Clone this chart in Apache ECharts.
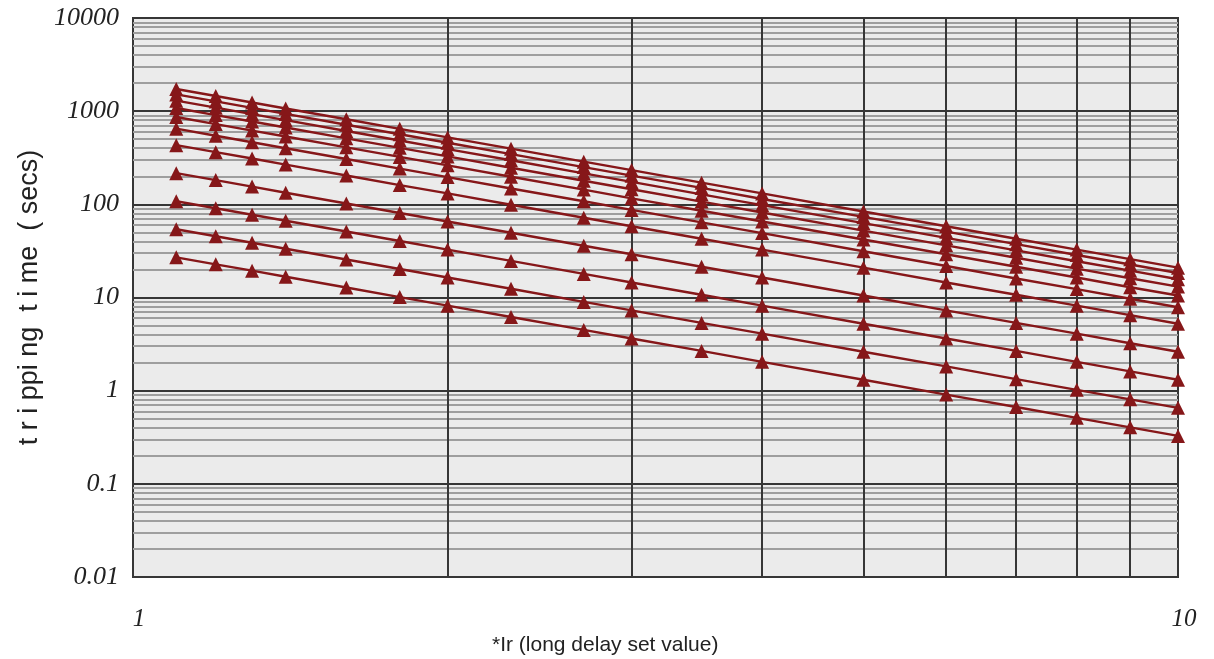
<!DOCTYPE html>
<html>
<head>
<meta charset="utf-8">
<script src="https://cdn.jsdelivr.net/npm/echarts@6/dist/echarts.min.js"></script>
<style>
html,body{margin:0;padding:0;background:#fff;}
#chart{width:1214px;height:659px;}
</style>
</head>
<body>
<div id="chart"></div>
<script>
// multiples of Ir (x values)
const xValues = [1.1, 1.2, 1.3, 1.4, 1.6, 1.8, 2, 2.3, 2.7, 3, 3.5, 4, 5, 6, 7, 8, 9, 10];

// tripping time curves (secs), bottom to top
const curve1  = [27.0, 22.7, 19.4, 16.7, 12.8, 10.1, 8.18, 6.18, 4.49, 3.63, 2.67, 2.04, 1.31, 0.908, 0.667, 0.511, 0.404, 0.327];
const curve2  = [54.0, 45.4, 38.7, 33.4, 25.6, 20.2, 16.4, 12.4, 8.97, 7.27, 5.34, 4.09, 2.62, 1.82, 1.33, 1.02, 0.807, 0.654];
const curve3  = [108, 90.8, 77.4, 66.7, 51.1, 40.4, 32.7, 24.7, 17.9, 14.5, 10.7, 8.18, 5.23, 3.63, 2.67, 2.04, 1.61, 1.31];
const curve4  = [216, 182, 155, 133, 102, 80.7, 65.4, 49.5, 35.9, 29.1, 21.4, 16.4, 10.5, 7.27, 5.34, 4.09, 3.23, 2.62];
const curve5  = [432, 363, 310, 267, 204, 161, 131, 98.9, 71.8, 58.1, 42.7, 32.7, 20.9, 14.5, 10.7, 8.18, 6.46, 5.23];
const curve6  = [649, 545, 464, 400, 307, 242, 196, 148, 108, 87.2, 64.1, 49.1, 31.4, 21.8, 16.0, 12.3, 9.69, 7.85];
const curve7  = [865, 727, 619, 534, 409, 323, 262, 198, 144, 116, 85.4, 65.4, 41.9, 29.1, 21.4, 16.4, 12.9, 10.5];
const curve8  = [1081, 908, 774, 667, 511, 404, 327, 247, 179, 145, 107, 81.8, 52.3, 36.3, 26.7, 20.4, 16.1, 13.1];
const curve9  = [1297, 1090, 929, 801, 613, 484, 392, 297, 215, 174, 128, 98.1, 62.8, 43.6, 32.0, 24.5, 19.4, 15.7];
const curve10 = [1513, 1272, 1084, 934, 715, 565, 458, 346, 251, 203, 150, 114, 73.3, 50.9, 37.4, 28.6, 22.6, 18.3];
const curve11 = [1730, 1453, 1238, 1068, 818, 646, 523, 396, 287, 233, 171, 131, 83.7, 58.1, 42.7, 32.7, 25.8, 20.9];
const curves = [curve1, curve2, curve3, curve4, curve5, curve6, curve7, curve8, curve9, curve10, curve11];

// axis tick labels
const yTickLabels = ['0.01', '0.1', '1', '10', '100', '1000', '10000'];
const xTickLabels = ['1', '10'];
// grid line positions
const xGridValues = [2, 3, 4, 5, 6, 7, 8, 9];
const yMinorValues = [
  0.02, 0.03, 0.04, 0.05, 0.06, 0.07, 0.08, 0.09,
  0.2, 0.3, 0.4, 0.5, 0.6, 0.7, 0.8, 0.9,
  2, 3, 4, 5, 6, 7, 8, 9,
  20, 30, 40, 50, 60, 70, 80, 90,
  200, 300, 400, 500, 600, 700, 800, 900,
  2000, 3000, 4000, 5000, 6000, 7000, 8000, 9000
];

const titleText = '*Ir (long delay set value)';
const yName = 't r i ppi ng  t i me  ( secs)';

const lineColor = '#861719';

const series = [];
series.push({
  type: 'line', data: [], z: 1, silent: true,
  markLine: {
    silent: true, symbol: ['none', 'none'], animation: false,
    label: {show: false},
    lineStyle: {color: '#9e9e9e', width: 2, type: 'solid'},
    data: yMinorValues.map(v => ({yAxis: v}))
  }
});
series.push({
  type: 'line', data: [], z: 2, silent: true,
  markLine: {
    silent: true, symbol: ['none', 'none'], animation: false,
    label: {show: false},
    lineStyle: {color: '#363636', width: 2, type: 'solid'},
    data: xGridValues.map(v => ({xAxis: v}))
  }
});
curves.forEach((c, i) => {
  series.push({
    type: 'line',
    name: 'curve' + (i + 1),
    z: 5,
    data: xValues.map((x, j) => [x, c[j]]),
    symbol: 'triangle',
    symbolSize: 14,
    showSymbol: true,
    lineStyle: {color: lineColor, width: 2.4},
    itemStyle: {color: lineColor},
    emphasis: {disabled: true}
  });
});

const chart = echarts.init(document.getElementById('chart'), null, {renderer: 'canvas'});
chart.setOption({
  animation: false,
  backgroundColor: '#ffffff',
  title: {
    text: titleText,
    left: 487, top: 630,
    textStyle: {fontFamily: 'Liberation Sans', fontSize: 21, fontWeight: 'normal', color: '#222'}
  },
  grid: {
    left: 133, right: 36, top: 18, bottom: 82,
    show: true, backgroundColor: '#ebebeb', borderColor: '#363636', borderWidth: 2
  },
  xAxis: {
    type: 'log', logBase: 10, min: 1, max: 10,
    axisLine: {show: false},
    axisTick: {show: false},
    splitLine: {show: false},
    axisLabel: {
      margin: 30,
      padding: [0, 0, 0, 12],
      fontFamily: 'Liberation Serif', fontStyle: 'italic', fontSize: 25, color: '#222',
      formatter: function (v) {
        const i = Math.round(Math.log10(v));
        return xTickLabels[i] !== undefined ? xTickLabels[i] : '';
      }
    }
  },
  yAxis: {
    type: 'log', logBase: 10, min: 0.01, max: 10000, interval: 1, splitNumber: 6,
    name: yName, nameLocation: 'middle', nameGap: 90,
    nameTextStyle: {fontFamily: 'Liberation Sans', fontSize: 27, color: '#222'},
    axisLine: {show: false},
    axisTick: {show: false},
    splitLine: {show: true, lineStyle: {color: '#363636', width: 2}},
    axisLabel: {
      margin: 14,
      fontFamily: 'Liberation Serif', fontStyle: 'italic', fontSize: 26, color: '#222',
      formatter: function (v) {
        const i = Math.round(Math.log10(v)) + 2;
        return yTickLabels[i] !== undefined ? yTickLabels[i] : '';
      }
    }
  },
  series: series
});
</script>
</body>
</html>
